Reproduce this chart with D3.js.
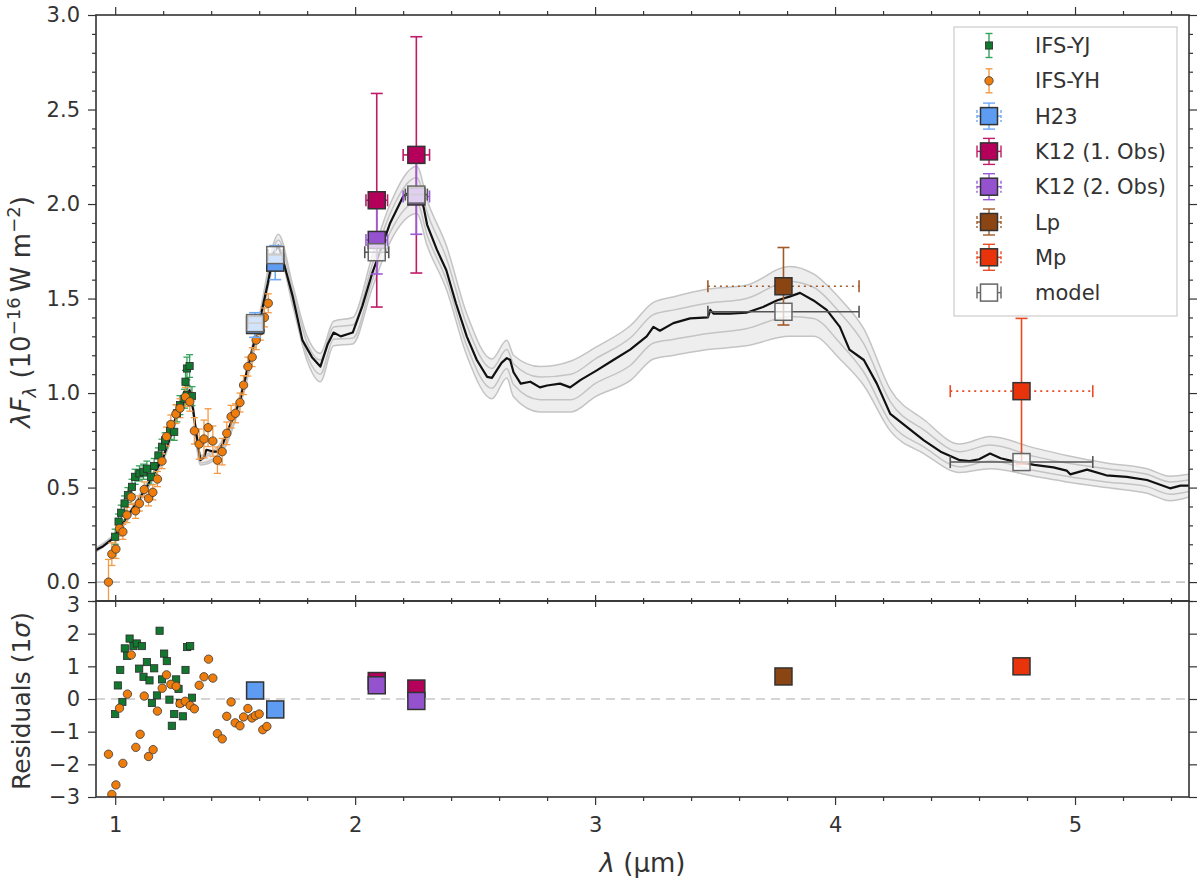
<!DOCTYPE html>
<html>
<head>
<meta charset="utf-8">
<script src="https://cdn.jsdelivr.net/npm/d3@7"></script>
<style>
  body { margin: 0; background: #fff; }
  svg text { font-family: "DejaVu Sans", sans-serif; fill: #333; }
</style>
</head>
<body>
<svg id="chart" width="1200" height="880"></svg>
<script>
// ---- best-fit model spectrum (black line)
var modelWave = [0.92,0.95,0.99,1.02,1.06,1.10,1.13,1.17,1.20,1.23,1.25,1.29,1.31,1.325,1.34,1.355,1.37,1.38,1.41,1.43,
  1.45,1.475,1.52,1.56,1.60,1.636,1.66,1.68,1.70,1.74,1.78,1.82,1.855,1.886,1.91,1.94,1.99,2.03,2.07,2.09,
  2.146,2.20,2.23,2.257,2.285,2.30,2.34,2.38,2.42,2.465,2.507,2.55,2.57,2.59,2.61,2.632,2.646,2.66,2.69,2.73,
  2.77,2.80,2.854,2.896,2.94,3.007,3.076,3.146,3.215,3.243,3.27,3.326,3.396,3.47,3.48,3.493,3.56,3.63,3.70,3.757,
  3.81,3.854,3.91,3.965,4.02,4.06,4.12,4.174,4.23,4.30,4.37,4.44,4.52,4.56,4.60,4.646,4.69,4.74,4.83,4.91,
  4.965,4.98,5.05,5.13,5.215,5.30,5.396,5.44,5.475];
var modelFlux = [0.17,0.19,0.23,0.29,0.365,0.44,0.50,0.59,0.66,0.77,0.86,0.96,1.015,0.91,0.77,0.645,0.66,0.70,0.69,0.69,
  0.735,0.82,0.96,1.175,1.37,1.58,1.74,1.78,1.70,1.51,1.28,1.19,1.14,1.26,1.32,1.30,1.32,1.46,1.63,1.70,
  1.90,2.04,2.065,2.074,1.985,1.89,1.76,1.65,1.475,1.30,1.175,1.086,1.08,1.12,1.16,1.185,1.175,1.11,1.05,1.06,
  1.03,1.04,1.05,1.03,1.07,1.12,1.175,1.23,1.30,1.35,1.33,1.37,1.395,1.40,1.44,1.42,1.42,1.425,1.455,1.49,
  1.51,1.53,1.49,1.44,1.35,1.23,1.175,1.05,0.89,0.82,0.75,0.69,0.645,0.64,0.65,0.68,0.655,0.64,0.62,0.607,
  0.59,0.57,0.595,0.565,0.557,0.54,0.496,0.51,0.51];

// ---- other model spectra (grey bundle)
var grayWave = [0.92,1.0,1.1,1.2,1.31,1.355,1.43,1.52,1.6,1.68,1.74,1.80,1.855,1.91,1.99,2.07,2.146,2.257,2.30,2.38,
  2.465,2.57,2.632,2.66,2.77,2.9,3.0,3.15,3.243,3.33,3.47,3.63,3.81,3.91,4.02,4.12,4.23,4.37,4.52,4.646,
  4.83,4.965,5.13,5.30,5.396,5.475];
var grayLow = [0.16,0.24,0.42,0.64,0.99,0.62,0.66,0.93,1.33,1.73,1.46,1.17,1.06,1.25,1.26,1.55,1.80,1.95,1.78,1.55,
  1.20,0.97,1.08,0.98,0.90,0.90,0.98,1.07,1.18,1.20,1.23,1.25,1.30,1.30,1.18,1.04,0.80,0.68,0.58,0.60,
  0.56,0.53,0.50,0.47,0.43,0.45];
var grayMid1 = [0.165,0.245,0.43,0.65,1.0,0.63,0.675,0.945,1.35,1.755,1.485,1.20,1.10,1.285,1.29,1.59,1.85,2.01,1.835,1.60,
  1.25,1.025,1.13,1.045,0.965,0.965,1.05,1.15,1.265,1.285,1.315,1.34,1.405,1.395,1.265,1.11,0.845,0.715,0.61,0.64,
  0.59,0.56,0.53,0.505,0.465,0.48];
var grayMid2 = [0.175,0.255,0.45,0.67,1.03,0.66,0.705,0.975,1.39,1.81,1.54,1.265,1.175,1.35,1.36,1.675,1.95,2.14,1.955,1.715,
  1.36,1.13,1.23,1.155,1.085,1.10,1.18,1.295,1.415,1.44,1.475,1.50,1.59,1.56,1.425,1.26,0.955,0.805,0.69,0.725,
  0.665,0.63,0.60,0.57,0.53,0.54];
var grayHigh = [0.18,0.26,0.46,0.68,1.04,0.67,0.72,0.99,1.41,1.84,1.57,1.30,1.21,1.38,1.40,1.72,2.00,2.20,2.02,1.78,
  1.42,1.18,1.28,1.20,1.14,1.17,1.24,1.36,1.48,1.51,1.55,1.57,1.67,1.63,1.50,1.34,1.02,0.86,0.73,0.77,
  0.71,0.67,0.63,0.60,0.56,0.57];

// ---- IFS-YJ spectrum
var yjWave = [1.0,1.014,1.025,1.039,1.053,1.07,1.083,1.101,1.118,1.132,1.149,1.1625,1.18,1.195,1.208,1.229,1.246,1.257,1.27,1.289,
  1.293,1.299,1.30,1.31,1.32];
var yjFlux = [0.24,0.32,0.367,0.416,0.46,0.504,0.557,0.575,0.584,0.60,0.557,0.614,0.67,0.716,0.75,0.80,0.795,0.893,0.936,0.97,
  1.06,1.13,0.99,1.143,0.984];
var yjErr = [0.04,0.04,0.04,0.04,0.04,0.04,0.04,0.04,0.04,0.04,0.04,0.04,0.04,0.04,0.04,0.045,0.045,0.045,0.05,0.05,
  0.06,0.06,0.05,0.06,0.05];

// ---- IFS-YH spectrum
var yhWave = [0.972,0.986,1.003,1.018,1.032,1.049,1.067,1.085,1.101,1.121,1.139,1.157,1.176,1.195,1.214,1.232,1.253,1.27,1.293,1.311,
  1.33,1.35,1.37,1.387,1.407,1.426,1.446,1.465,1.483,1.501,1.52,1.535,1.553,1.571,1.5875,1.605,1.622,1.638];
var yhFlux = [0.0,0.148,0.175,0.284,0.266,0.355,0.45,0.377,0.416,0.49,0.443,0.475,0.545,0.64,0.77,0.834,0.889,0.92,0.98,0.954,
  0.80,0.73,0.757,0.817,0.746,0.645,0.69,0.787,0.875,0.893,0.95,1.042,1.14,1.19,1.28,1.33,1.40,1.475];
var yhErr = [0.12,0.06,0.05,0.04,0.04,0.04,0.04,0.04,0.04,0.04,0.04,0.04,0.04,0.04,0.05,0.05,0.05,0.05,0.05,0.05,
  0.07,0.08,0.1,0.1,0.08,0.07,0.07,0.06,0.06,0.05,0.05,0.05,0.05,0.05,0.05,0.05,0.05,0.05];

// ---- residuals of the spectra
var yjResWave = [1.0,1.011,1.021,1.03,1.04,1.05,1.06,1.076,1.09,1.10,1.111,1.118,1.132,1.143,1.153,1.1625,1.174,1.185,1.195,1.204,
  1.215,1.226,1.236,1.246,1.254,1.264,1.27,1.282,1.293,1.30,1.3125,1.32];
var yjRes = [-0.46,0.415,0.89,-0.09,1.55,1.32,1.85,1.62,1.70,0.93,1.62,0.68,1.13,0.57,-0.12,0.94,0.11,2.09,0.60,1.39,
  1.16,-0.02,-0.82,-0.46,0.60,0.31,-0.12,-0.53,0.89,1.59,1.62,0.04];
var yhResWave = [0.972,0.986,1.003,1.018,1.032,1.051,1.067,1.086,1.104,1.121,1.139,1.158,1.176,1.196,1.214,1.232,1.254,1.27,1.292,1.3125,
  1.33,1.35,1.37,1.389,1.407,1.426,1.446,1.465,1.483,1.50,1.52,1.535,1.553,1.57,1.584,1.60,1.615,1.632];
var yhRes = [-1.69,-2.92,-2.63,-0.28,-1.97,0.15,1.35,-1.48,-1.08,0.09,-1.76,-1.55,-0.37,0.33,0.74,0.45,0.39,-0.14,-0.07,-0.2,
  -0.30,0.42,0.68,1.22,0.64,-1.06,-1.22,-0.53,-0.09,-0.73,-0.82,-0.55,-0.29,-0.58,-0.51,-0.46,-0.94,-0.84];

// ---- photometry
var h23Wave = [1.583, 1.667], h23Flux = [1.36, 1.69], h23Err = [0.065, 0.09], h23Xerr = [0.03, 0.03], h23Res = [0.26, -0.32];
var k1Wave = [2.09, 2.255], k1Flux = [2.02, 2.26], k1Err = [0.565, 0.625], k1Xerr = [0.045, 0.055], k1Res = [0.55, 0.32];
var k2Wave = [2.09, 2.255], k2Flux = [1.81, 2.04], k2Err = [0.18, 0.20], k2Xerr = [0.045, 0.055], k2Res = [0.42, -0.06];
var lpWave = [3.785], lpFlux = [1.565], lpErr = [0.205], lpXerr = [0.315], lpRes = [0.69];
var mpWave = [4.777], mpFlux = [1.01], mpErr = [0.385], mpXerr = [0.297], mpRes = [1.0];
var synWave = [1.583, 1.667, 2.09, 2.255, 3.785, 4.777];
var synFlux = [1.37, 1.73, 1.745, 2.05, 1.43, 0.635];
var synXerr = [0.03, 0.03, 0.05, 0.046, 0.315, 0.297];

var legendLabels = ["IFS-YJ", "IFS-YH", "H23", "K12 (1. Obs)", "K12 (2. Obs)", "Lp", "Mp", "model"];
var mainYTicks = [0, 0.5, 1, 1.5, 2, 2.5, 3];
var resYTicks = [-3, -2, -1, 0, 1, 2, 3];
var xTicks = [1, 2, 3, 4, 5];

// ---------------------------------------------------------------------------
var svg = d3.select("#chart");
var L = 96, R = 1189, T = 15, M = 601, B = 797;

var x = d3.scaleLinear().domain([0.92, 5.475]).range([L, R]);
var y = d3.scaleLinear().domain([-0.1, 3.0]).range([M, T]);
var yr = d3.scaleLinear().domain([-3, 3]).range([B, M]);

var defs = svg.append("defs");
defs.append("clipPath").attr("id", "clipMain")
    .append("rect").attr("x", L).attr("y", T).attr("width", R - L).attr("height", M - T);
defs.append("clipPath").attr("id", "clipRes")
    .append("rect").attr("x", L).attr("y", M).attr("width", R - L).attr("height", B - M);

var gMain = svg.append("g").attr("clip-path", "url(#clipMain)");
var gRes = svg.append("g").attr("clip-path", "url(#clipRes)");

// zero lines
gMain.append("line").attr("x1", L).attr("x2", R).attr("y1", y(0)).attr("y2", y(0))
    .attr("stroke", "#c8c8c8").attr("stroke-width", 1.6).attr("stroke-dasharray", "9,6");
gRes.append("line").attr("x1", L).attr("x2", R).attr("y1", yr(0)).attr("y2", yr(0))
    .attr("stroke", "#c8c8c8").attr("stroke-width", 1.6).attr("stroke-dasharray", "9,6");

// grey bundle
var gi = d3.range(grayWave.length);
gMain.append("path").datum(gi)
    .attr("fill", "#eeeeee")
    .attr("d", d3.area().curve(d3.curveMonotoneX)
        .x(function(i) { return x(grayWave[i]); })
        .y0(function(i) { return y(grayLow[i]); })
        .y1(function(i) { return y(grayHigh[i]); }));
[grayLow, grayMid1, grayMid2, grayHigh].forEach(function(arr) {
  gMain.append("path").datum(gi)
      .attr("fill", "none").attr("stroke", "#c4c4c4").attr("stroke-width", 1.5)
      .attr("d", d3.line().curve(d3.curveMonotoneX)
          .x(function(i) { return x(grayWave[i]); })
          .y(function(i) { return y(arr[i]); }));
});

// best model
gMain.append("path").datum(d3.range(modelWave.length))
    .attr("fill", "none").attr("stroke", "#111").attr("stroke-width", 2.2)
    .attr("stroke-linejoin", "round")
    .attr("d", d3.line()
        .x(function(i) { return x(modelWave[i]); })
        .y(function(i) { return y(modelFlux[i]); }));

// error bar helpers
function vErr(g, wave, flux, err, color, width, cap) {
  var idx = d3.range(wave.length);
  g.selectAll(null).data(idx).enter().append("line")
      .attr("x1", function(i) { return x(wave[i]); }).attr("x2", function(i) { return x(wave[i]); })
      .attr("y1", function(i) { return y(flux[i] - err[i]); }).attr("y2", function(i) { return y(flux[i] + err[i]); })
      .attr("stroke", color).attr("stroke-width", width);
  [-1, 1].forEach(function(s) {
    g.selectAll(null).data(idx).enter().append("line")
        .attr("x1", function(i) { return x(wave[i]) - cap; }).attr("x2", function(i) { return x(wave[i]) + cap; })
        .attr("y1", function(i) { return y(flux[i] + s * err[i]); }).attr("y2", function(i) { return y(flux[i] + s * err[i]); })
        .attr("stroke", color).attr("stroke-width", width);
  });
}
function hErr(g, wave, flux, xerr, color, width, cap, dash) {
  var idx = d3.range(wave.length);
  g.selectAll(null).data(idx).enter().append("line")
      .attr("x1", function(i) { return x(wave[i] - xerr[i]); }).attr("x2", function(i) { return x(wave[i] + xerr[i]); })
      .attr("y1", function(i) { return y(flux[i]); }).attr("y2", function(i) { return y(flux[i]); })
      .attr("stroke", color).attr("stroke-width", width).attr("stroke-dasharray", dash);
  [-1, 1].forEach(function(s) {
    g.selectAll(null).data(idx).enter().append("line")
        .attr("x1", function(i) { return x(wave[i] + s * xerr[i]); }).attr("x2", function(i) { return x(wave[i] + s * xerr[i]); })
        .attr("y1", function(i) { return y(flux[i]) - cap; }).attr("y2", function(i) { return y(flux[i]) + cap; })
        .attr("stroke", color).attr("stroke-width", width);
  });
}

// IFS spectra
vErr(gMain, yjWave, yjFlux, yjErr, "#35a35a", 1.3, 3.5);
vErr(gMain, yhWave, yhFlux, yhErr, "#f39a45", 1.3, 3.5);

gMain.selectAll(".yj").data(d3.range(yjWave.length)).enter().append("rect")
    .attr("x", function(i) { return x(yjWave[i]) - 3.6; })
    .attr("y", function(i) { return y(yjFlux[i]) - 3.6; })
    .attr("width", 7.2).attr("height", 7.2)
    .attr("fill", "#13782f").attr("stroke", "#2a2a2a").attr("stroke-width", 0.8);
gMain.selectAll(".yh").data(d3.range(yhWave.length)).enter().append("circle")
    .attr("cx", function(i) { return x(yhWave[i]); })
    .attr("cy", function(i) { return y(yhFlux[i]); })
    .attr("r", 4.2)
    .attr("fill", "#ef7d0c").attr("stroke", "#3a3a3a").attr("stroke-width", 0.8);

// photometry
var phot = [
  {wave: h23Wave, flux: h23Flux, err: h23Err, xerr: h23Xerr, res: h23Res, fill: "#5d9cf2", line: "#6fa8f5", dash: "3,3"},
  {wave: k1Wave, flux: k1Flux, err: k1Err, xerr: k1Xerr, res: k1Res, fill: "#b5005b", line: "#c01a68", dash: null},
  {wave: k2Wave, flux: k2Flux, err: k2Err, xerr: k2Xerr, res: k2Res, fill: "#9452cf", line: "#9a5ad6", dash: "3,3"},
  {wave: lpWave, flux: lpFlux, err: lpErr, xerr: lpXerr, res: lpRes, fill: "#8b4513", line: "#a05a2a", dash: "2,4"},
  {wave: mpWave, flux: mpFlux, err: mpErr, xerr: mpXerr, res: mpRes, fill: "#e8330b", line: "#ea4a22", dash: "2,4"}
];
var SQ = 17;
phot.forEach(function(p) {
  vErr(gMain, p.wave, p.flux, p.err, p.line, 1.6, 6);
  hErr(gMain, p.wave, p.flux, p.xerr, p.line, 1.6, 6, p.dash);
});
phot.forEach(function(p) {
  gMain.selectAll(null).data(d3.range(p.wave.length)).enter().append("rect")
      .attr("x", function(i) { return x(p.wave[i]) - SQ / 2; })
      .attr("y", function(i) { return y(p.flux[i]) - SQ / 2; })
      .attr("width", SQ).attr("height", SQ)
      .attr("fill", p.fill).attr("stroke", "#333").attr("stroke-width", 1.5);
});

// synthetic photometry of the model
hErr(gMain, synWave, synFlux, synXerr, "#555", 1.6, 6, null);
gMain.selectAll(".syn").data(d3.range(synWave.length)).enter().append("rect")
    .attr("x", function(i) { return x(synWave[i]) - SQ / 2; })
    .attr("y", function(i) { return y(synFlux[i]) - SQ / 2; })
    .attr("width", SQ).attr("height", SQ)
    .attr("fill", "#fff").attr("fill-opacity", 0.72)
    .attr("stroke", "#666").attr("stroke-width", 1.5);

// residuals
gRes.selectAll(".ryj").data(d3.range(yjResWave.length)).enter().append("rect")
    .attr("x", function(i) { return x(yjResWave[i]) - 3.6; })
    .attr("y", function(i) { return yr(yjRes[i]) - 3.6; })
    .attr("width", 7.2).attr("height", 7.2)
    .attr("fill", "#13782f").attr("stroke", "#2a2a2a").attr("stroke-width", 0.8);
gRes.selectAll(".ryh").data(d3.range(yhResWave.length)).enter().append("circle")
    .attr("cx", function(i) { return x(yhResWave[i]); })
    .attr("cy", function(i) { return yr(yhRes[i]); })
    .attr("r", 4.2)
    .attr("fill", "#ef7d0c").attr("stroke", "#3a3a3a").attr("stroke-width", 0.8);
phot.forEach(function(p) {
  gRes.selectAll(null).data(d3.range(p.wave.length)).enter().append("rect")
      .attr("x", function(i) { return x(p.wave[i]) - SQ / 2; })
      .attr("y", function(i) { return yr(p.res[i]) - SQ / 2; })
      .attr("width", SQ).attr("height", SQ)
      .attr("fill", p.fill).attr("stroke", "#333").attr("stroke-width", 1.5);
});

// ---- axes
function styleAxis(g) {
  g.select(".domain").remove();
  g.selectAll(".tick line").attr("stroke", "#333").attr("stroke-width", 1.2);
  g.selectAll(".tick text").attr("fill", "#333").style("font-size", "21px")
      .style("font-family", "'DejaVu Sans', sans-serif");
  return g;
}
var yMinor = d3.range(-0.1, 3.001, 0.1).map(function(d) { return +d.toFixed(1); })
    .filter(function(d) { return mainYTicks.indexOf(d) < 0; });
var xMinor = d3.range(1, 5.5, 0.2).map(function(d) { return +d.toFixed(1); })
    .filter(function(d) { return xTicks.indexOf(d) < 0; });

function addAxis(axisFn, scale, ticks, size, transform, fmt, pad) {
  var g = svg.append("g").attr("transform", transform)
      .call(axisFn(scale).tickValues(ticks).tickSize(size).tickSizeOuter(0).tickPadding(pad || 7)
          .tickFormat(fmt || ""));
  return styleAxis(g);
}
// main panel
addAxis(d3.axisLeft, y, mainYTicks, 8, "translate(" + L + ",0)", d3.format(".1f"), 8);
addAxis(d3.axisLeft, y, yMinor, 4, "translate(" + L + ",0)");
addAxis(d3.axisRight, y, mainYTicks, 8, "translate(" + R + ",0)");
addAxis(d3.axisRight, y, yMinor, 4, "translate(" + R + ",0)");
addAxis(d3.axisTop, x, xTicks, 8, "translate(0," + T + ")");
addAxis(d3.axisTop, x, xMinor, 4, "translate(0," + T + ")");
addAxis(d3.axisBottom, x, xTicks, 6, "translate(0," + M + ")");
addAxis(d3.axisBottom, x, xMinor, 3, "translate(0," + M + ")");
// residual panel
var resLeft = addAxis(d3.axisLeft, yr, resYTicks, 8, "translate(" + L + ",0)", d3.format("d"), 8);
resLeft.selectAll(".tick text").filter(function(d) { return d === 3; }).attr("dy", "0.5em");
addAxis(d3.axisRight, yr, resYTicks, 8, "translate(" + R + ",0)");
addAxis(d3.axisTop, x, xTicks, 6, "translate(0," + M + ")");
addAxis(d3.axisTop, x, xMinor, 3, "translate(0," + M + ")");
addAxis(d3.axisBottom, x, xTicks, 8, "translate(0," + B + ")", d3.format("d"), 12);
addAxis(d3.axisBottom, x, xMinor, 4, "translate(0," + B + ")");

// frames
svg.append("rect").attr("x", L).attr("y", T).attr("width", R - L).attr("height", M - T)
    .attr("fill", "none").attr("stroke", "#333").attr("stroke-width", 1.6);
svg.append("rect").attr("x", L).attr("y", M).attr("width", R - L).attr("height", B - M)
    .attr("fill", "none").attr("stroke", "#333").attr("stroke-width", 1.6);

// ---- axis labels
var yl = svg.append("text").attr("transform", "translate(30,312) rotate(-90)")
    .attr("text-anchor", "middle").style("font-size", "26px");
yl.append("tspan").style("font-style", "italic").text("λF");
yl.append("tspan").style("font-style", "italic").style("font-size", "18px").attr("dy", 6).text("λ");
yl.append("tspan").attr("dy", -6).text(" (10");
yl.append("tspan").style("font-size", "18px").attr("dy", -10).text("−16");
yl.append("tspan").attr("dy", 10).text("\u2009W m");
yl.append("tspan").style("font-size", "18px").attr("dy", -10).text("−2");
yl.append("tspan").attr("dy", 10).text(")");

var rl = svg.append("text").attr("transform", "translate(30," + ((M + B) / 2 + 2) + ") rotate(-90)")
    .attr("text-anchor", "middle").style("font-size", "25px");
rl.append("tspan").text("Residuals (1");
rl.append("tspan").style("font-style", "italic").text("σ");
rl.append("tspan").text(")");

var xl = svg.append("text").attr("x", (L + R) / 2).attr("y", 872)
    .attr("text-anchor", "middle").style("font-size", "26px");
xl.append("tspan").style("font-style", "italic").text("λ");
xl.append("tspan").text(" (µm)");

// ---- legend
var lg = svg.append("g");
lg.append("rect").attr("x", 954).attr("y", 27).attr("width", 223).attr("height", 289)
    .attr("fill", "#fff").attr("stroke", "#cccccc").attr("stroke-width", 1.2);
var legStyle = [
  {kind: "small", shape: "rect", fill: "#13782f", line: "#35a35a"},
  {kind: "small", shape: "circle", fill: "#ef7d0c", line: "#f39a45"},
  {kind: "big", fill: "#5d9cf2", line: "#6fa8f5", dash: "3,2"},
  {kind: "big", fill: "#b5005b", line: "#c01a68", dash: null},
  {kind: "big", fill: "#9452cf", line: "#9a5ad6", dash: "3,2"},
  {kind: "big", fill: "#8b4513", line: "#a05a2a", dash: "3,2"},
  {kind: "big", fill: "#e8330b", line: "#ea4a22", dash: "3,2"},
  {kind: "model", fill: "#fff", line: "#666", dash: null}
];
legendLabels.forEach(function(lab, k) {
  var cy = 45.5 + k * 35.3, cx = 989, st = legStyle[k];
  var e = lg.append("g");
  if (st.kind === "small") {
    e.append("line").attr("x1", cx).attr("x2", cx).attr("y1", cy - 12).attr("y2", cy + 12)
        .attr("stroke", st.line).attr("stroke-width", 1.4);
    [-12, 12].forEach(function(d) {
      e.append("line").attr("x1", cx - 3.5).attr("x2", cx + 3.5).attr("y1", cy + d).attr("y2", cy + d)
          .attr("stroke", st.line).attr("stroke-width", 1.4);
    });
    if (st.shape === "rect") {
      e.append("rect").attr("x", cx - 3.6).attr("y", cy - 3.6).attr("width", 7.2).attr("height", 7.2)
          .attr("fill", st.fill).attr("stroke", "#2a2a2a").attr("stroke-width", 0.8);
    } else {
      e.append("circle").attr("cx", cx).attr("cy", cy).attr("r", 4.2)
          .attr("fill", st.fill).attr("stroke", "#3a3a3a").attr("stroke-width", 0.8);
    }
  } else {
    if (st.kind === "big") {
      e.append("line").attr("x1", cx).attr("x2", cx).attr("y1", cy - 13).attr("y2", cy + 13)
          .attr("stroke", st.line).attr("stroke-width", 1.4);
      [-13, 13].forEach(function(d) {
        e.append("line").attr("x1", cx - 6).attr("x2", cx + 6).attr("y1", cy + d).attr("y2", cy + d)
            .attr("stroke", st.line).attr("stroke-width", 1.4);
      });
    }
    e.append("line").attr("x1", cx - 12).attr("x2", cx + 12).attr("y1", cy).attr("y2", cy)
        .attr("stroke", st.line).attr("stroke-width", 1.4);
    [-12, 12].forEach(function(d) {
      e.append("line").attr("x1", cx + d).attr("x2", cx + d).attr("y1", cy - 6).attr("y2", cy + 6)
          .attr("stroke", st.line).attr("stroke-width", 1.4).attr("stroke-dasharray", st.dash);
    });
    e.append("rect").attr("x", cx - 8.5).attr("y", cy - 8.5).attr("width", SQ).attr("height", SQ)
        .attr("fill", st.fill).attr("stroke", st.kind === "model" ? "#666" : "#333").attr("stroke-width", 1.5);
  }
  e.append("text").attr("x", 1035).attr("y", cy).attr("dy", "0.36em")
      .style("font-size", "21px").text(lab);
});
</script>
</body>
</html>
